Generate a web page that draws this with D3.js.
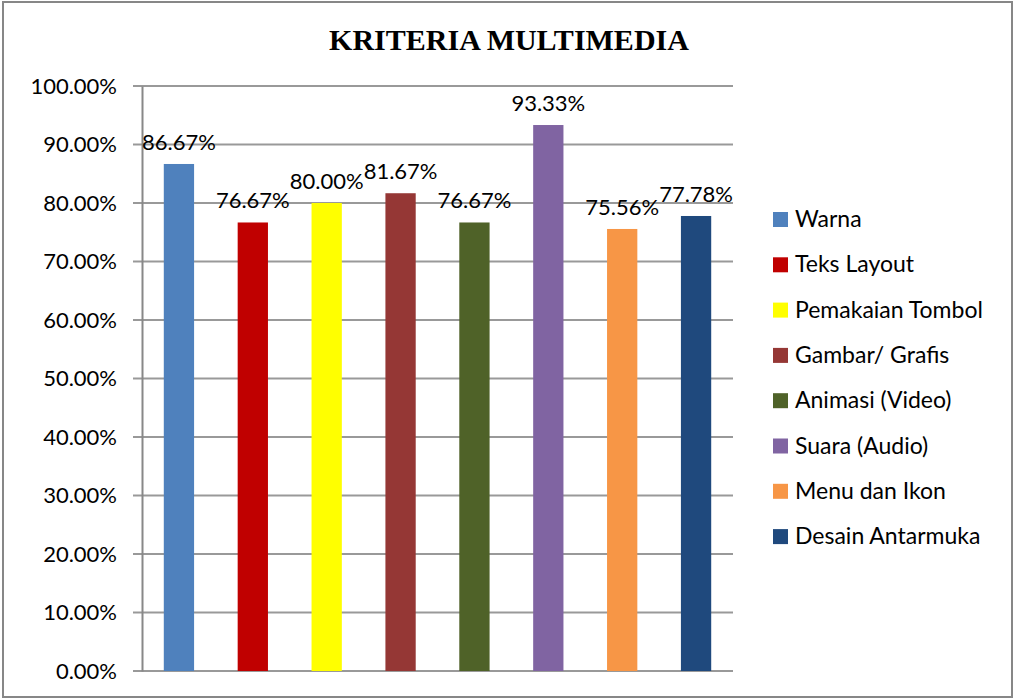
<!DOCTYPE html>
<html>
<head>
<meta charset="utf-8">
<script src="https://cdn.jsdelivr.net/npm/d3@7"></script>
<style>
  body { margin: 0; background: #fff; }
  svg text { font-family: Lato, "Open Sans", sans-serif; fill: #000; }
</style>
</head>
<body>
<div id="chart"></div>
<script>
// data
var categories = ["Warna", "Teks Layout", "Pemakaian Tombol", "Gambar/ Grafis",
                  "Animasi (Video)", "Suara (Audio)", "Menu dan Ikon", "Desain Antarmuka"];
var values = [86.67, 76.67, 80.00, 81.67, 76.67, 93.33, 75.56, 77.78];
var colors = ["#4f81bd", "#c00000", "#ffff00", "#953735", "#4f6228", "#8064a2", "#f79646", "#1f497d"];
var yTicks = [0, 10, 20, 30, 40, 50, 60, 70, 80, 90, 100];
var title = "KRITERIA MULTIMEDIA";

var W = 1015, H = 700;
var margin = {top: 86, left: 142, right: 282, bottom: 29};
var width = W - margin.left - margin.right,
    height = H - margin.top - margin.bottom;

var svg = d3.select("#chart").append("svg")
  .attr("width", W).attr("height", H);

// outer frame
svg.append("rect")
  .attr("x", 3).attr("y", 2).attr("width", W - 6).attr("height", H - 5)
  .attr("fill", "#fff").attr("stroke", "#878787").attr("stroke-width", 2);

svg.append("text")
  .attr("x", 509).attr("y", 50)
  .attr("text-anchor", "middle")
  .style("font-family", "'Liberation Serif', 'Times New Roman', serif")
  .style("font-weight", "bold").style("font-size", "30px")
  .text(title);

var g = svg.append("g")
  .attr("transform", "translate(" + margin.left + "," + margin.top + ")");

var x = d3.scaleBand().domain(categories).range([0, width]).paddingInner(0.59).paddingOuter(0.295);
var y = d3.scaleLinear().domain([0, 100]).range([height, 0]);

// gridlines
g.selectAll(".grid").data(yTicks).enter().append("line")
  .attr("x1", -9).attr("x2", width)
  .attr("y1", function(d) { return y(d); }).attr("y2", function(d) { return y(d); })
  .attr("stroke", "#999").attr("stroke-width", 2);

var yAxis = g.append("g")
  .call(d3.axisLeft(y).tickValues(yTicks).tickSize(0).tickPadding(25)
    .tickFormat(function(d) { return d.toFixed(2) + "%"; }));
yAxis.select(".domain").attr("stroke", "#888").attr("stroke-width", 2);
yAxis.selectAll("text").style("font-size", "22px").style("font-family", "Lato, 'Open Sans', sans-serif");

g.selectAll(".bar").data(values).enter().append("rect")
  .attr("x", function(d, i) { return x(categories[i]); })
  .attr("y", function(d) { return y(d); })
  .attr("width", x.bandwidth())
  .attr("height", function(d) { return height - y(d); })
  .attr("fill", function(d, i) { return colors[i]; });

g.selectAll(".lbl").data(values).enter().append("text")
  .attr("x", function(d, i) { return x(categories[i]) + x.bandwidth() / 2; })
  .attr("y", function(d) { return y(d) - 14; })
  .attr("text-anchor", "middle")
  .style("font-size", "22px")
  .text(function(d) { return d.toFixed(2) + "%"; });

// legend
var legend = svg.append("g").attr("transform", "translate(773,219)");
var item = legend.selectAll(".item").data(categories).enter().append("g")
  .attr("transform", function(d, i) { return "translate(0," + (i * 45.3) + ")"; });
item.append("rect")
  .attr("x", 0).attr("y", -7).attr("width", 15).attr("height", 15)
  .attr("fill", function(d, i) { return colors[i]; });
item.append("text")
  .attr("x", 22).attr("y", 0).attr("dy", "0.35em")
  .style("font-size", "23px")
  .text(function(d) { return d; });
</script>
</body>
</html>
